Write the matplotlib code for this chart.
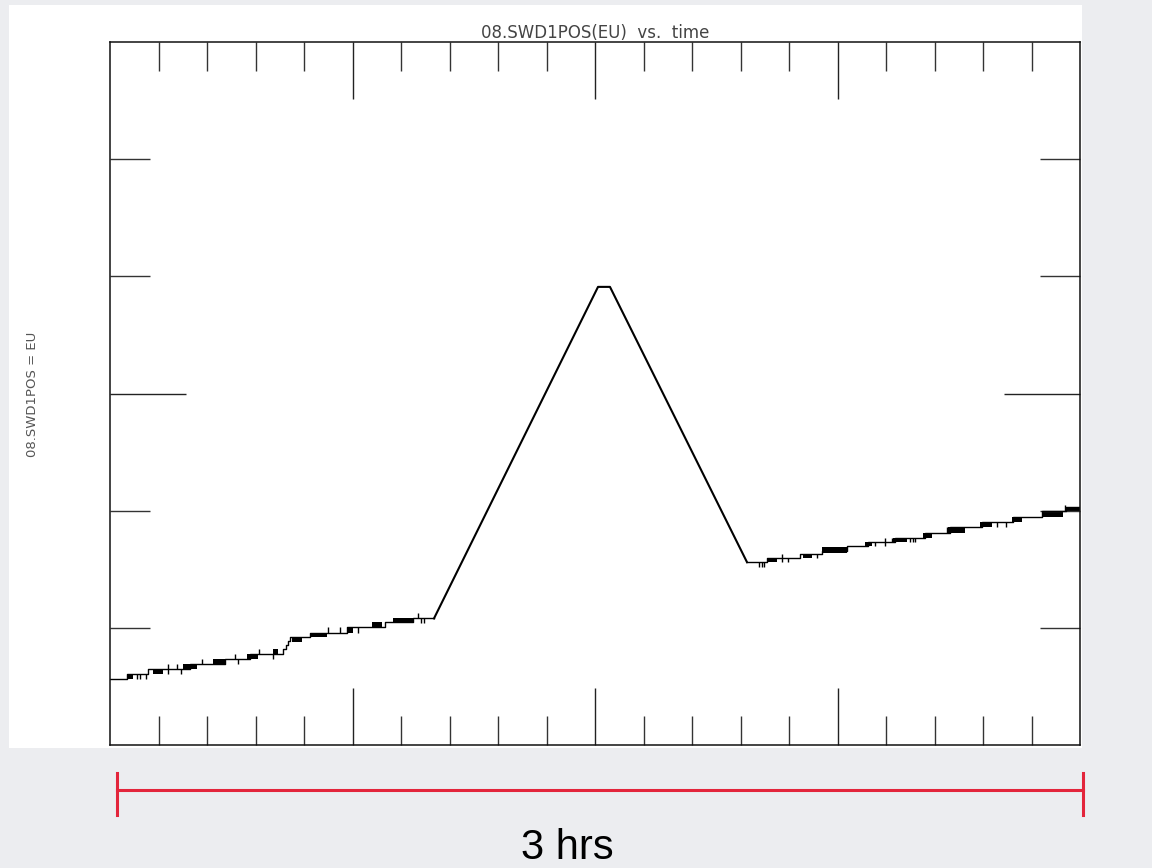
import matplotlib
matplotlib.use('Agg')
import matplotlib.pyplot as plt
from matplotlib.patches import Rectangle
from matplotlib.ticker import FixedLocator
import matplotlib.transforms as mtransforms

# ---- data: time in minutes, position in EU ----
flat1_t = [0, 3.15, 7.05, 14.85, 21.34, 25.98, 32.10, 32.66, 33.03, 33.40, 37.11, 43.98, 51.03, 56.23, 60.12]
flat1_v = [0.56, 0.61, 0.65, 0.69, 0.73, 0.78, 0.82, 0.85, 0.89, 0.92, 0.96, 1.01, 1.05, 1.08, 1.08]

ramp_t = [60.12, 90.56, 92.78, 118.21]
ramp_v = [1.08, 3.91, 3.91, 1.56]

flat2_t = [118.21, 121.92, 128.04, 132.12, 136.76, 140.66, 145.67, 151.24, 155.88, 161.81, 167.57, 172.95, 177.40, 180.0]
flat2_v = [1.56, 1.60, 1.63, 1.66, 1.70, 1.73, 1.77, 1.81, 1.86, 1.90, 1.95, 2.00, 2.03, 2.03]

# chatter between two adjacent levels (dense toggling)
blob_t0 = [3.15, 7.98, 13.55, 19.11, 25.42, 30.25, 33.77, 37.11, 43.98, 48.62, 52.52,
           121.92, 128.60, 132.12, 140.10, 145.30, 150.87, 155.51, 161.44, 167.38, 172.95, 177.59]
blob_t1 = [4.27, 9.84, 16.14, 21.34, 27.46, 31.18, 35.63, 40.27, 45.09, 50.47, 56.23,
           123.77, 130.27, 136.76, 141.40, 147.90, 152.54, 158.66, 163.67, 169.24, 176.85, 180.0]
blob_lo = [0.56, 0.61, 0.65, 0.69, 0.73, 0.78, 0.88, 0.92, 0.96, 1.01, 1.05,
           1.56, 1.60, 1.64, 1.70, 1.73, 1.77, 1.81, 1.86, 1.90, 1.95, 2.00]
blob_hi = [0.61, 0.65, 0.69, 0.73, 0.78, 0.82, 0.92, 0.96, 1.01, 1.05, 1.08,
           1.60, 1.63, 1.69, 1.73, 1.77, 1.81, 1.86, 1.90, 1.95, 2.00, 2.03]

# single samples off the current level
spike_t = [5.01, 5.57, 6.68, 10.76, 12.43, 13.18, 17.07, 23.20, 23.75, 27.65, 30.25,
           40.45, 42.68, 46.02, 57.15, 57.71, 58.27,
           120.43, 120.99, 121.36, 124.70, 125.82, 131.20, 141.96, 143.81, 145.11,
           148.45, 149.01, 149.38, 155.32, 164.60, 166.27, 177.22]
spike_lo = [0.56, 0.56, 0.56, 0.61, 0.65, 0.61, 0.69, 0.73, 0.69, 0.78, 0.73,
            0.96, 0.96, 0.96, 1.08, 1.04, 1.04,
            1.52, 1.52, 1.52, 1.56, 1.56, 1.60, 1.70, 1.70, 1.73,
            1.73, 1.73, 1.73, 1.81, 1.86, 1.86, 2.00]
spike_hi = [0.61, 0.61, 0.61, 0.69, 0.69, 0.65, 0.73, 0.78, 0.73, 0.82, 0.78,
            1.01, 1.01, 1.01, 1.13, 1.08, 1.08,
            1.56, 1.56, 1.56, 1.63, 1.60, 1.63, 1.73, 1.77, 1.77,
            1.77, 1.77, 1.77, 1.86, 1.90, 1.90, 2.05]

x_major = [45, 90, 135]
x_minor = [9, 18, 27, 36, 54, 63, 72, 81, 99, 108, 117, 126, 144, 153, 162, 171]
y_major = [3]
y_minor = [1, 2, 4, 5]

title = '08.SWD1POS(EU)  vs.  time'
ylabel = '08.SWD1POS = EU'
span_label = '3 hrs'

################################################

fig = plt.figure(figsize=(11.52, 8.68), dpi=100, facecolor='#ecedf0')
# white page behind the plot
page = Rectangle((9 / 1152, 1 - 748 / 868), (1082 - 9) / 1152, (748 - 5) / 868,
                 transform=fig.transFigure, facecolor='white', edgecolor='none', zorder=-10)
fig.add_artist(page)

ax = fig.add_axes([110 / 1152, 1 - 745 / 868, 970 / 1152, 703 / 868])
ax.set_facecolor('white')

ax.plot(flat1_t, flat1_v, drawstyle='steps-post', color='black', lw=1.0)
ax.plot(ramp_t, ramp_v, color='black', lw=1.5)
ax.plot(flat2_t, flat2_v, drawstyle='steps-post', color='black', lw=1.0)

ax.bar(blob_t0, [h - l for h, l in zip(blob_hi, blob_lo)],
       width=[b - a for a, b in zip(blob_t0, blob_t1)], bottom=blob_lo,
       align='edge', color='black', linewidth=0)
ax.vlines(spike_t, spike_lo, spike_hi, color='black', lw=1.0)

ax.set_xlim(0, 180)
ax.set_ylim(0, 6)
ax.xaxis.set_major_locator(FixedLocator(x_major))
ax.xaxis.set_minor_locator(FixedLocator(x_minor))
ax.yaxis.set_major_locator(FixedLocator(y_major))
ax.yaxis.set_minor_locator(FixedLocator(y_minor))
ax.tick_params(axis='x', which='major', direction='in', length=41, width=1.0, color='#222222',
               top=True, bottom=True, labelbottom=False)
ax.tick_params(axis='x', which='minor', direction='in', length=21, width=1.0, color='#333333',
               top=True, bottom=True)
ax.tick_params(axis='y', which='major', direction='in', length=55, width=1.0, color='#222222',
               left=True, right=True, labelleft=False)
ax.tick_params(axis='y', which='minor', direction='in', length=29, width=1.0, color='#333333',
               left=True, right=True)
for s in ax.spines.values():
    s.set_linewidth(1.1)
    s.set_color('#111111')

ax.set_title(title, fontsize=12, color='#444444', pad=0.5, family='DejaVu Sans')
fig.text(33 / 1152, 1 - 394 / 868, ylabel, rotation=90, ha='center', va='center',
         fontsize=9.5, color='#555555', family='DejaVu Sans')

# red "3 hrs" span marker under the time axis
trans = mtransforms.blended_transform_factory(ax.transData, ax.transAxes)
red = '#e3253b'
ax.plot([1.3, 180.6], [-0.064, -0.064], transform=trans, color=red, lw=2.2, clip_on=False)
ax.plot([1.3, 1.3], [-0.040, -0.100], transform=trans, color=red, lw=2.2, clip_on=False)
ax.plot([180.6, 180.6], [-0.040, -0.100], transform=trans, color=red, lw=2.2, clip_on=False)
ax.text(84.8, -0.147, span_label, transform=trans, ha='center', va='center',
        fontsize=30, color='black', family='Liberation Sans')

fig.savefig('out.png', dpi=100, facecolor=fig.get_facecolor())
